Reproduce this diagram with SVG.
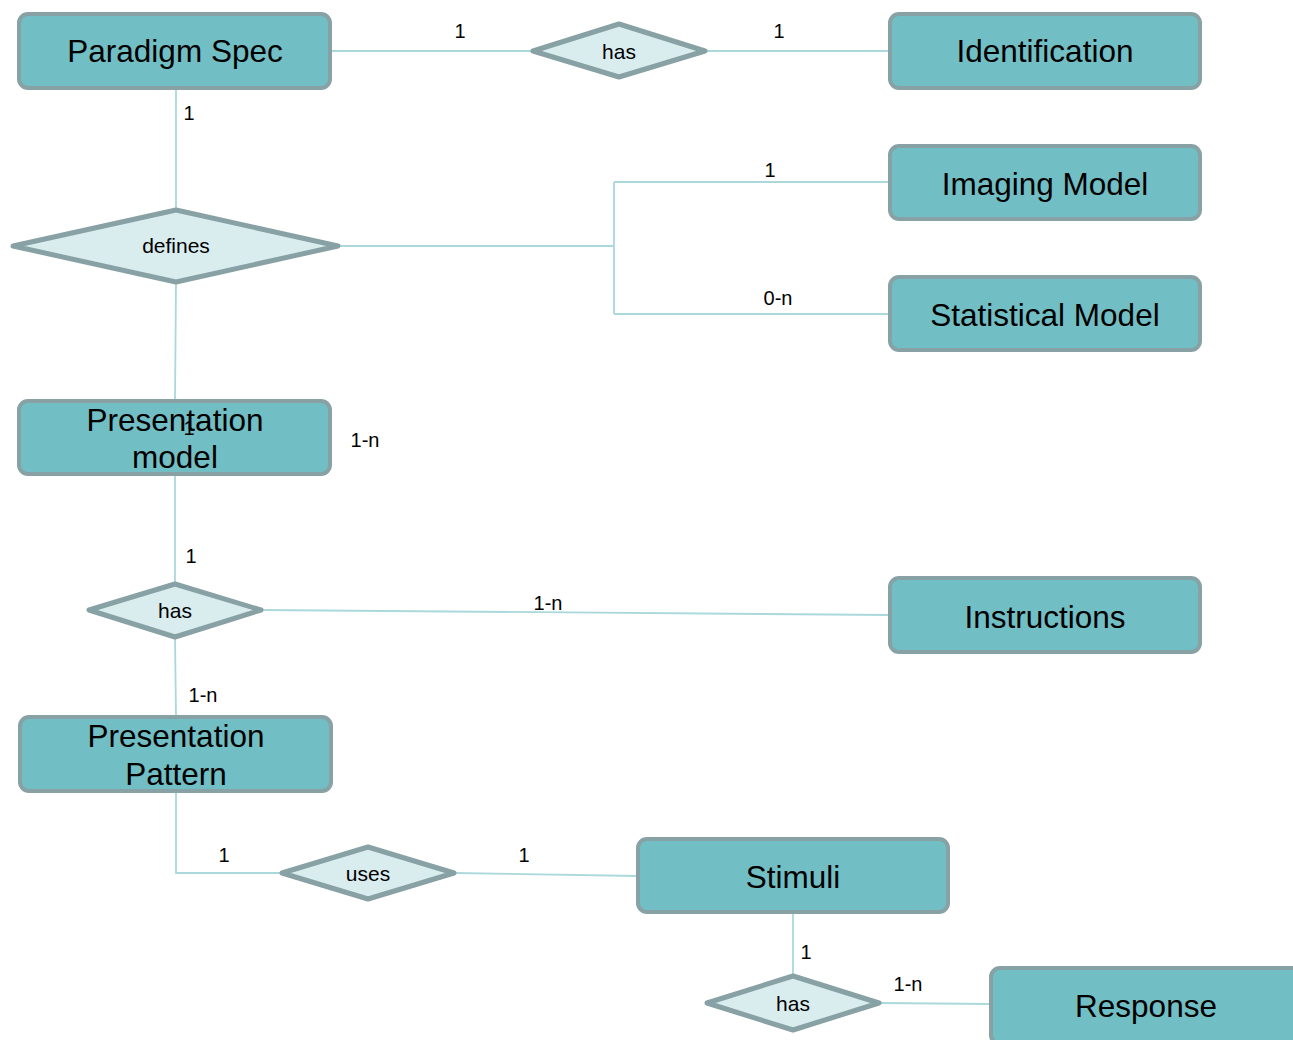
<svg xmlns="http://www.w3.org/2000/svg" width="1293" height="1040" viewBox="0 0 1293 1040">
<style>
.ent{fill:#71bec4;stroke:#87a1a4;stroke-width:4}
.rel{fill:#d9edef;stroke:#87a1a4;stroke-width:5;stroke-linejoin:round}
.el{font-family:"Liberation Sans",Arial,sans-serif;font-size:31.5px;fill:#000;text-anchor:middle}
.rl{font-family:"Liberation Sans",Arial,sans-serif;font-size:21px;fill:#000;text-anchor:middle}
.lb{font-family:"Liberation Sans",Arial,sans-serif;font-size:20px;fill:#000;text-anchor:middle}
.cn{fill:none;stroke:#aad8dc;stroke-width:1.8}
</style>
<rect width="1293" height="1040" fill="#fff"/>
<g id="connectors">
<path class="cn" d="M330,51 H533"/>
<path class="cn" d="M705,51 H890"/>
<path class="cn" d="M176,88 V210"/>
<path class="cn" d="M338,246 H614 M614,182 V314 M614,182 H890 M614,314 H890"/>
<path class="cn" d="M176,282 L175,401"/>
<path class="cn" d="M175,474 V584"/>
<path class="cn" d="M261,610 L890,615"/>
<path class="cn" d="M175,637 L176,717"/>
<path class="cn" d="M176,791 V873 H282"/>
<path class="cn" d="M454,873 L638,876"/>
<path class="cn" d="M793,912 V976"/>
<path class="cn" d="M879,1003 L991,1004"/>
<text class="lb" x="460" y="38">1</text>
<text class="lb" x="779" y="38">1</text>
<text class="lb" x="189" y="120">1</text>
<text class="lb" x="770" y="177">1</text>
<text class="lb" x="778" y="305">0-n</text>
<text class="lb" x="365" y="447">1-n</text>
<text class="lb" x="191" y="563">1</text>
<text class="lb" x="548" y="610">1-n</text>
<text class="lb" x="203" y="702">1-n</text>
<text class="lb" x="224" y="862">1</text>
<text class="lb" x="524" y="862">1</text>
<text class="lb" x="806" y="959">1</text>
<text class="lb" x="908" y="991">1-n</text>
</g>
<g id="paradigm-spec"><rect class="ent" x="19" y="14" width="311" height="74" rx="9"/><text class="el" x="175" y="62">Paradigm Spec</text></g>
<g id="identification"><rect class="ent" x="890" y="14" width="310" height="74" rx="9"/><text class="el" x="1045" y="62">Identification</text></g>
<g id="imaging-model"><rect class="ent" x="890" y="146" width="310" height="73" rx="9"/><text class="el" x="1045" y="195">Imaging Model</text></g>
<g id="statistical-model"><rect class="ent" x="890" y="277" width="310" height="73" rx="9"/><text class="el" x="1045" y="326">Statistical Model</text></g>
<g id="presentation-model"><rect class="ent" x="19" y="401" width="311" height="73" rx="9"/><text class="el" x="175" y="431">Presentation</text><text class="el" x="175" y="468">model</text><text class="lb" x="189" y="435">1</text></g>
<g id="instructions"><rect class="ent" x="890" y="578" width="310" height="74" rx="9"/><text class="el" x="1045" y="628">Instructions</text></g>
<g id="presentation-pattern"><rect class="ent" x="20" y="717" width="311" height="74" rx="9"/><text class="el" x="176" y="747">Presentation</text><text class="el" x="176" y="785">Pattern</text></g>
<g id="stimuli"><rect class="ent" x="638" y="839" width="310" height="73" rx="9"/><text class="el" x="793" y="888">Stimuli</text></g>
<g id="response"><rect class="ent" x="991" y="968" width="310" height="76" rx="9"/><text class="el" x="1146" y="1017">Response</text></g>
<g id="has-identification"><polygon class="rel" points="533,51 619,24 705,51 619,77"/><text class="rl" x="619" y="59">has</text></g>
<g id="defines"><polygon class="rel" points="13,246 176,210 338,246 176,282"/><text class="rl" x="176" y="253">defines</text></g>
<g id="has-instructions"><polygon class="rel" points="89,610 175,584 261,610 175,637"/><text class="rl" x="175" y="618">has</text></g>
<g id="uses"><polygon class="rel" points="282,873 368,847 454,873 368,899"/><text class="rl" x="368" y="881">uses</text></g>
<g id="has-response"><polygon class="rel" points="707,1003 793,976 879,1003 793,1030"/><text class="rl" x="793" y="1011">has</text></g>
</svg>
